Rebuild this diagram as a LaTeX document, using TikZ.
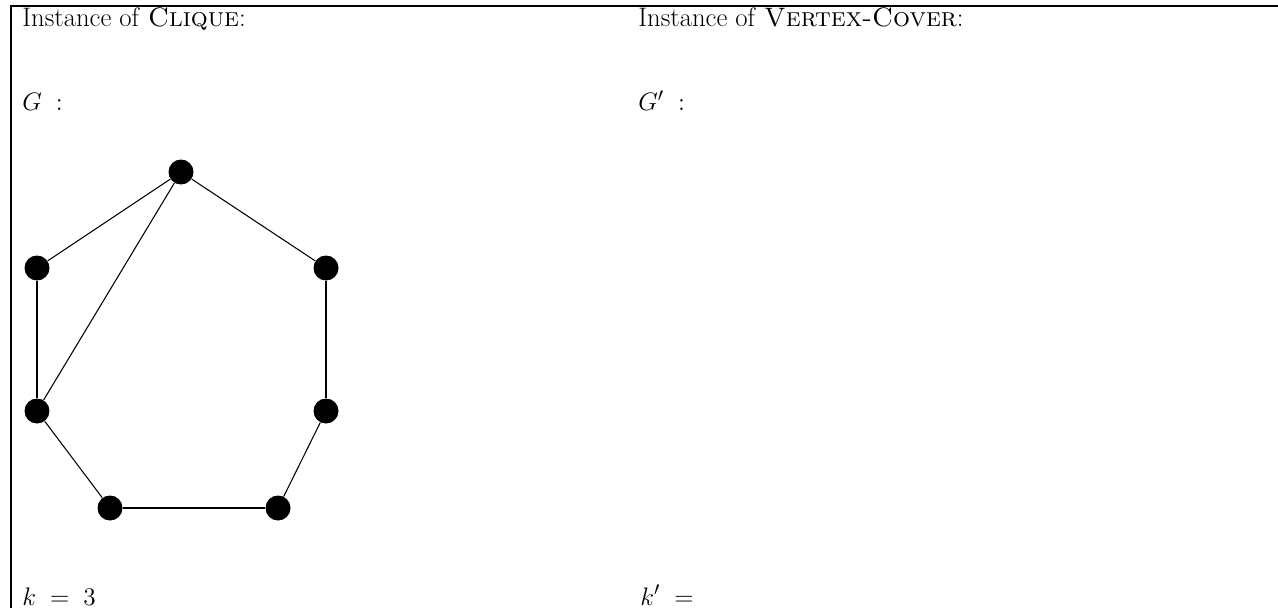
\documentclass[tikz,border=0pt]{standalone}
\begin{document}
\begin{tikzpicture}[x=0.02cm,y=-0.02cm,
  vtx/.style={circle,fill=black,inner sep=0pt,minimum size=25*0.02cm},
  lbl/.style={anchor=base west,inner sep=0pt,font=\fontsize{15.2}{18}\selectfont},
  edge/.style={line width=0.6pt}]
\useasboundingbox (0,0) rectangle (1278,608);
\coordinate (c1) at (11,620);
\coordinate (c2) at (11,6);
\coordinate (c3) at (1290,6);
\draw[line width=1.2pt] (c1) -- (c2) -- (c3);
\node[lbl] (t1) at (22,27) {Instance of \textsc{Clique}:};
\node[lbl] (t2) at (638,27) {Instance of \textsc{Vertex-Cover}:};
\node[lbl] (g1) at (22,111) {$G\;:$};
\node[lbl] (g2) at (638,111) {$G'\;:$};
\node[lbl] (k1) at (22,605) {$k\;=\;3$};
\node[lbl] (k2) at (640,605) {$k'\;=$};
\node[vtx] (a) at (181,172) {};
\node[vtx] (b) at (37,268) {};
\node[vtx] (c) at (326,268) {};
\node[vtx] (d) at (37,411) {};
\node[vtx] (e) at (326,411) {};
\node[vtx] (f) at (110,508) {};
\node[vtx] (g) at (278,508) {};
\draw[edge] (a) -- (b);
\draw[edge] (a) -- (c);
\draw[edge] (a) -- (d);
\draw[edge] (b) -- (d);
\draw[edge] (c) -- (e);
\draw[edge] (d) -- (f);
\draw[edge] (f) -- (g);
\draw[edge] (g) -- (e);
\end{tikzpicture}
\end{document}
